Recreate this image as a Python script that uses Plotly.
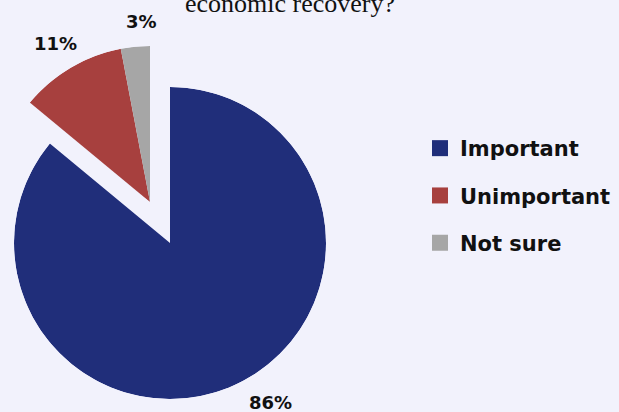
import math
import plotly.graph_objects as go

# ---- data ----
labels = ["Important", "Unimportant", "Not sure"]
shares = [86, 11, 3]
colors = ["#202E7A", "#A7403E", "#A6A6A6"]
title_text = "economic recovery?"

BG = "#F2F2FC"
W, H = 619, 412

# cumulative angles (clockwise from 12 o'clock)
total = sum(shares)
spans = [360.0 * v / total for v in shares]
starts = []
acc = 0.0
for s in spans:
    starts.append(acc)
    acc += s
mids = [st + sp / 2 for st, sp in zip(starts, spans)]

fig = go.Figure()

# main slice in polar subplot 1, exploded group (Unimportant + Not sure) in polar subplot 2
subplot_of = ["polar", "polar2", "polar2"]
for i, lab in enumerate(labels):
    fig.add_trace(go.Barpolar(
        r=[1], theta=[mids[i]], width=[spans[i]],
        marker=dict(color=colors[i], line=dict(width=0)),
        name=lab, legendgroup=lab, subplot=subplot_of[i],
        showlegend=False, hoverinfo="name",
    ))

# legend entries (larger square keys)
for i, lab in enumerate(labels):
    fig.add_trace(go.Scatter(
        x=[None], y=[None], mode="markers", name=lab, legendgroup=lab,
        marker=dict(symbol="square", size=16, color=colors[i], line=dict(width=0)),
        showlegend=True, hoverinfo="skip",
    ))

R = 156.0
cx1, cy1 = 170.0, 243.0      # centre of main pie (px)
cx2, cy2 = 150.0, 202.0      # apex of exploded group (px)
sector2 = [90.0, 145.0]
bx = -math.cos(math.radians(sector2[1])) * R

axis_off = dict(visible=False, showgrid=False, showline=False, showticklabels=False, ticks="")
polar_common = dict(
    bgcolor="rgba(0,0,0,0)",
    radialaxis=dict(range=[0, 1], **axis_off),
    angularaxis=dict(direction="clockwise", rotation=90, **axis_off),
    hole=0,
)

# percentage labels placed just outside each slice along its mid-angle
lab_font = dict(family="DejaVu Sans", size=18, color="#111111", weight="bold")
centres = [(cx1, cy1), (cx2, cy2), (cx2, cy2)]
dists = [1.13 * R, 1.18 * R, 1.16 * R]
anchors = ["left", "center", "center"]
xshifts = [2, -1, 9]
annotations = []
for i in range(len(labels)):
    cx, cy = centres[i]
    a = math.radians(mids[i])
    px = cx + dists[i] * math.sin(a)
    py = cy - dists[i] * math.cos(a)
    annotations.append(dict(
        text=f"{shares[i]}%", x=px / W, y=1 - py / H, xref="paper", yref="paper",
        xanchor=anchors[i], yanchor="middle", xshift=xshifts[i],
        showarrow=False, font=lab_font))

fig.update_layout(
    width=W, height=H,
    paper_bgcolor=BG, plot_bgcolor=BG,
    margin=dict(l=0, r=0, t=0, b=0),
    xaxis=dict(visible=False), yaxis=dict(visible=False),
    polar=dict(domain=dict(x=[(cx1 - R) / W, (cx1 + R) / W],
                           y=[(H - cy1 - R) / H, (H - cy1 + R) / H]),
               **polar_common),
    polar2=dict(domain=dict(x=[(cx2 - bx) / W, cx2 / W],
                            y=[(H - cy2) / H, (H - cy2 + R) / H]),
                sector=sector2, **polar_common),
    title=dict(text=title_text, x=290 / W, xref="paper", xanchor="center",
               yref="container", y=1 - 3 / H, yanchor="middle",
               font=dict(family="Liberation Serif", size=26, color="#111111")),
    legend=dict(x=420 / W, xanchor="left", y=1 - 128 / H, yanchor="top",
                font=dict(family="DejaVu Sans", size=21, color="#111111", weight="bold"),
                bgcolor="rgba(0,0,0,0)", tracegroupgap=17, traceorder="grouped",
                itemsizing="trace"),
    annotations=annotations,
    showlegend=True,
)

fig.write_html("out.html",
               config={"displayModeBar": False},
               post_script="document.body.style.margin='0px';"
                           "document.body.style.background='" + BG + "';")
